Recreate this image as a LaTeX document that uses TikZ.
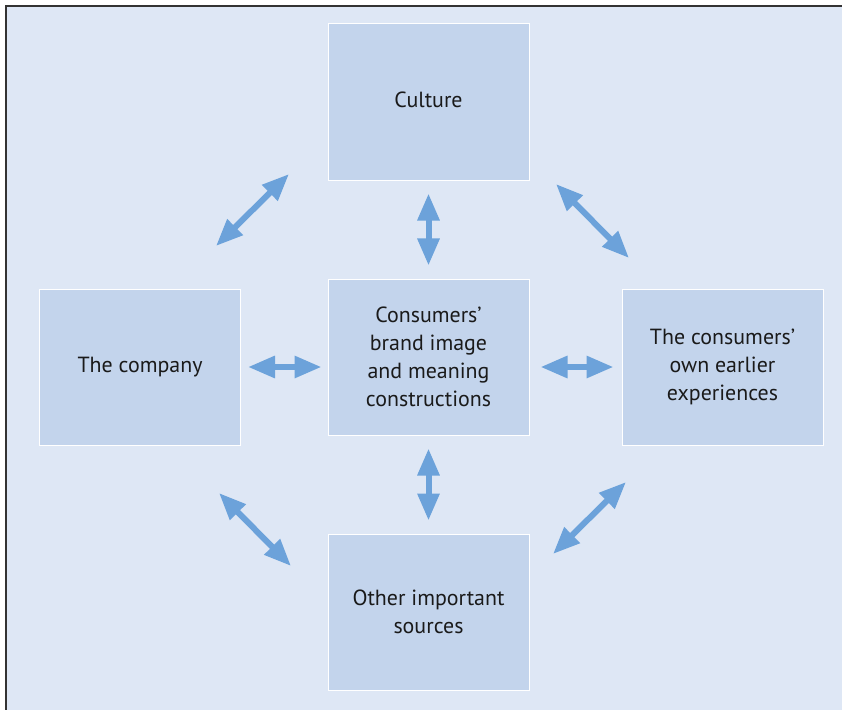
\documentclass[tikz,border=0pt]{standalone}
\usepackage{fontspec}
\setmainfont{PT Sans}
\usetikzlibrary{arrows.meta}

\definecolor{pagebg}{RGB}{222,231,245}
\definecolor{boxbg}{RGB}{195,212,236}
\definecolor{arrowblue}{RGB}{108,162,218}
\definecolor{inktext}{RGB}{26,26,26}

\tikzset{
  factorbox/.style={draw=white, line width=1bp, fill=boxbg, text=inktext,
    minimum width=201bp, minimum height=156bp, align=center, inner sep=0pt,
    font=\fontsize{22}{28}\selectfont},
  twoway/.style={arrowblue, line width=6bp,
    {Triangle[width=21bp,length=27bp]}-{Triangle[width=21bp,length=27bp]}}
}

\begin{document}
\begin{tikzpicture}[x=1bp,y=-1bp, line join=miter]

% -----------------------------
% Frame and background
% -----------------------------
\useasboundingbox (0,0) rectangle (842,710);
\fill[pagebg] (6,6) rectangle (842,710);
\draw[black!80, line width=2bp] (6,710) -- (6,6) -- (842,6);

% -----------------------------
% Boxes
% -----------------------------
\node[factorbox] (culture) at (428.5,102)   {\strut Culture};
\node[factorbox] (brand)   at (428.5,357) {Consumers’\\brand image\\and meaning\\constructions};
\node[factorbox] (company) at (140,367)     {\strut The company};
\node[factorbox] (earlier) at (722.5,367)   {The consumers’\\own earlier\\experiences};
\node[factorbox] (sources) at (428.5,612)   {Other important\\sources};

% -----------------------------
% Arrows to the centre box
% -----------------------------
\draw[twoway, shorten <=13bp, shorten >=13bp] (brand) -- (culture);
\draw[twoway, shorten <=13bp, shorten >=13bp] (brand) -- (sources);
\draw[twoway, shorten <=7bp,  shorten >=6bp]  (company.east) -- (company.east -| brand.west);
\draw[twoway, shorten <=11bp, shorten >=8bp]  (earlier.west -| brand.east) -- (earlier.west);

% -----------------------------
% Diagonal arrows (free ends)
% -----------------------------
\coordinate (tlA) at (216,246); \coordinate (tlB) at (289,174);
\coordinate (trA) at (556,184); \coordinate (trB) at (629,258);
\coordinate (blA) at (219,493); \coordinate (blB) at (291,566);
\coordinate (brA) at (553,554); \coordinate (brB) at (626,482);

\draw[twoway] (tlA) -- (tlB);
\draw[twoway] (trA) -- (trB);
\draw[twoway] (blA) -- (blB);
\draw[twoway] (brA) -- (brB);

\end{tikzpicture}
\end{document}
